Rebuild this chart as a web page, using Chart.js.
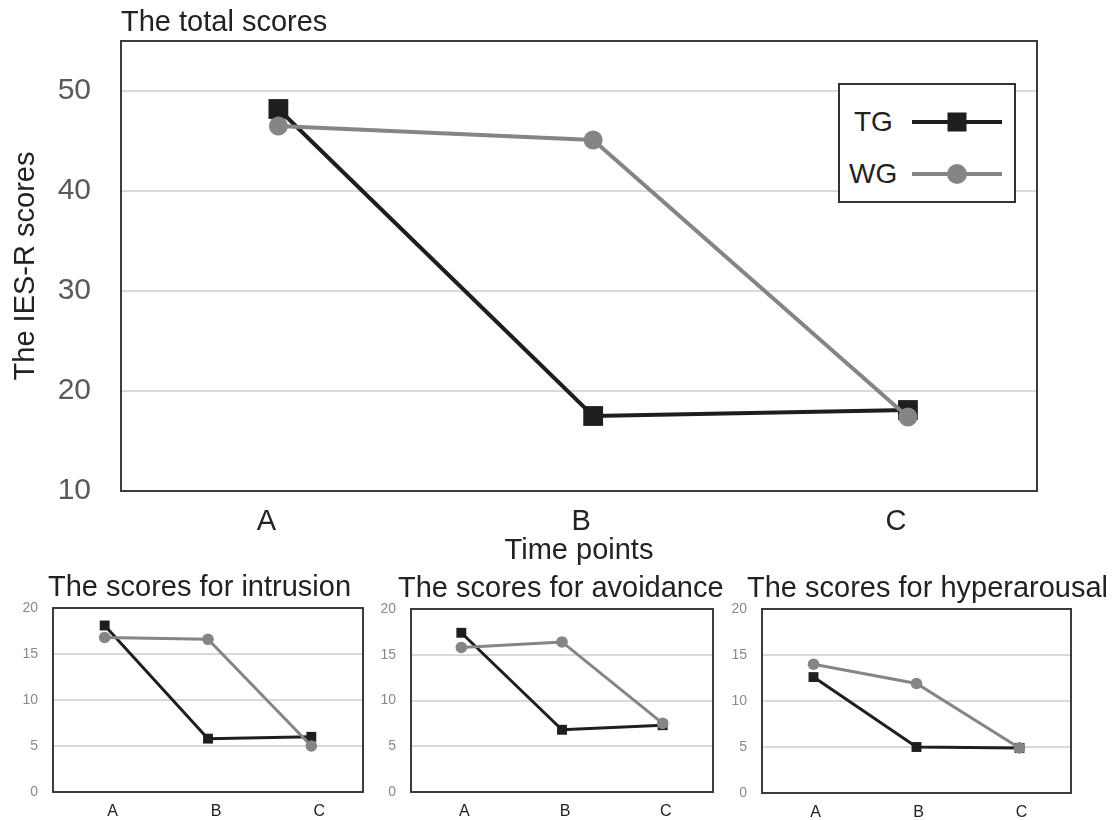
<!DOCTYPE html>
<html>
<head>
<meta charset="utf-8">
<script src="https://cdn.jsdelivr.net/npm/chart.js@4.4.1/dist/chart.umd.min.js"></script>
<style>
  body { margin: 0; background: #fff; width: 1115px; height: 820px; position: relative; overflow: hidden;
         font-family: "Liberation Sans", Arial, sans-serif; }
  canvas { position: absolute; left: 0; top: 0; }
  .title { position: absolute; font-size: 29px; color: #222; line-height: 1; white-space: nowrap; transform: translateY(-50%); }
  #legend { position: absolute; left: 838px; top: 83px; width: 178px; height: 120px; box-sizing: border-box;
            border: 2px solid #333; background: #fff; }
  #legend .lbl { position: absolute; font-size: 28px; color: #222; line-height: 1; transform: translateY(-50%); }
  #legend .ln { position: absolute; left: 72px; width: 90px; height: 4px; transform: translateY(-50%); }
  #legend .mk { position: absolute; transform: translate(-50%, -50%); }
</style>
</head>
<body>
<canvas id="total" width="1115" height="820"></canvas>
<canvas id="intrusion" width="1115" height="820"></canvas>
<canvas id="avoidance" width="1115" height="820"></canvas>
<canvas id="hyperarousal" width="1115" height="820"></canvas>

<div class="title" style="left:121px;top:21px">The total scores</div>
<div class="title" style="left:48px;top:586px">The scores for intrusion</div>
<div class="title" style="left:398px;top:587px">The scores for avoidance</div>
<div class="title" style="left:747px;top:587px">The scores for hyperarousal</div>

<div id="legend">
  <div class="lbl" style="left:14px;top:37px">TG</div>
  <div class="ln" style="top:37px;background:#1e1e1e"></div>
  <div class="mk" style="left:117px;top:37px;width:19px;height:19px;background:#1e1e1e"></div>
  <div class="lbl" style="left:9px;top:89px">WG</div>
  <div class="ln" style="top:89px;background:#858585"></div>
  <div class="mk" style="left:117px;top:89px;width:20px;height:20px;border-radius:50%;background:#858585"></div>
</div>

<script>
const timePoints = ['A', 'B', 'C'];

const totalTG = [48.2, 17.5, 18.1];
const totalWG = [46.5, 45.1, 17.4];
const intrusionTG = [18.1, 5.8, 6.0];
const intrusionWG = [16.8, 16.6, 5.0];
const avoidanceTG = [17.4, 6.8, 7.3];
const avoidanceWG = [15.8, 16.4, 7.5];
const hyperTG = [12.6, 5.0, 4.9];
const hyperWG = [14.0, 11.9, 4.9];

const totalTicks = [10, 20, 30, 40, 50];
const subTicks = [0, 5, 10, 15, 20];

const TG_COLOR = '#1e1e1e';
const WG_COLOR = '#858585';
const FONT = '"Liberation Sans", Arial, sans-serif';
const W = 1115, H = 820;

// frame around the plot area
const boxPlugin = {
    id: 'box',
    beforeDatasetsDraw(chart, args, opts) {
        const { ctx, chartArea: a } = chart;
        ctx.save();
        ctx.strokeStyle = '#3c3c3c';
        ctx.lineWidth = opts.width || 2;
        ctx.strokeRect(a.left, a.top, a.right - a.left, a.bottom - a.top);
        ctx.restore();
    }
};

function dataset(label, values, color, shape, radius, width, order, linear) {
    return {
        label: label,
        data: linear ? values.map((v, i) => ({ x: i, y: v })) : values,
        borderColor: color,
        backgroundColor: color,
        pointBackgroundColor: color,
        pointBorderColor: color,
        pointStyle: shape,
        pointRadius: radius,
        pointBorderWidth: 0,
        borderWidth: width,
        tension: 0,
        order: order
    };
}

// main chart: plot area 121..1037 x 41..491
new Chart(document.getElementById('total'), {
    type: 'line',
    data: {
        datasets: [
            dataset('TG', totalTG, TG_COLOR, 'rect', 14, 4, 1, true),
            dataset('WG', totalWG, WG_COLOR, 'circle', 9.5, 4, 0, true)
        ]
    },
    options: {
        responsive: false,
        animation: false,
        events: [],
        layout: { autoPadding: false, padding: { left: 0, top: 41, right: W - 1037, bottom: H - 491 - 84 } },
        plugins: { legend: { display: false }, tooltip: { enabled: false }, box: { width: 2 } },
        scales: {
            x: {
                type: 'linear',
                min: -0.5,
                max: 2.41,
                afterFit: s => { s.height = 84; },
                afterBuildTicks: s => { s.ticks = timePoints.map((_, i) => ({ value: i })); },
                grid: { display: false, drawTicks: false },
                border: { display: false },
                ticks: {
                    callback: v => timePoints[v],
                    font: { family: FONT, size: 29 },
                    color: '#222',
                    padding: 14,
                    labelOffset: -12,
                    maxRotation: 0
                },
                title: {
                    display: true,
                    text: 'Time points',
                    font: { family: FONT, size: 29 },
                    color: '#222',
                    padding: { top: 0, bottom: 7 }
                }
            },
            y: {
                min: 10,
                max: 55,
                afterFit: s => { s.width = 121; s.paddingTop = 0; s.paddingBottom = 0; },
                afterBuildTicks: s => { s.ticks = totalTicks.map(v => ({ value: v })); },
                grid: { color: '#d9d9d9', lineWidth: 2, drawTicks: false },
                border: { display: false },
                ticks: {
                    font: { family: FONT, size: 30 },
                    color: '#5a5a5a',
                    padding: 30
                },
                title: {
                    display: true,
                    text: 'The IES-R scores',
                    font: { family: FONT, size: 29 },
                    color: '#222',
                    padding: { top: 9, bottom: 0 }
                }
            }
        }
    },
    plugins: [boxPlugin]
});

function smallChart(id, tg, wg, left, top, right, bottom, labelShift) {
    const yw = 53, xh = H - bottom;
    new Chart(document.getElementById(id), {
        type: 'line',
        data: {
            labels: timePoints,
            datasets: [
                dataset('TG', tg, TG_COLOR, 'rect', 7, 3, 1, false),
                dataset('WG', wg, WG_COLOR, 'circle', 5.8, 3, 0, false)
            ]
        },
        options: {
            responsive: false,
            animation: false,
            events: [],
            layout: { autoPadding: false, padding: { left: left - yw, top: top, right: W - right, bottom: 0 } },
            plugins: { legend: { display: false }, tooltip: { enabled: false }, box: { width: 2 } },
            scales: {
                x: {
                    offset: true,
                    afterFit: s => { s.height = xh; },
                    grid: { display: false, drawTicks: false },
                    border: { display: false },
                    ticks: {
                        font: { family: FONT, size: 16 },
                        color: '#222',
                        padding: 10,
                        labelOffset: labelShift,
                        maxRotation: 0
                    }
                },
                y: {
                    min: 0,
                    max: 20,
                    afterFit: s => { s.width = yw; s.paddingTop = 0; s.paddingBottom = 0; },
                    afterBuildTicks: s => { s.ticks = subTicks.map(v => ({ value: v })); },
                    grid: { color: '#d9d9d9', lineWidth: 2, drawTicks: false },
                    border: { display: false },
                    ticks: {
                        font: { family: FONT, size: 14 },
                        color: '#8a8a8a',
                        padding: 15
                    }
                }
            }
        },
        plugins: [boxPlugin]
    });
}

smallChart('intrusion', intrusionTG, intrusionWG, 53, 608, 363, 792, 8);
smallChart('avoidance', avoidanceTG, avoidanceWG, 411, 609, 713, 792, 3);
smallChart('hyperarousal', hyperTG, hyperWG, 762, 609, 1071, 793, 2);
</script>
</body>
</html>
